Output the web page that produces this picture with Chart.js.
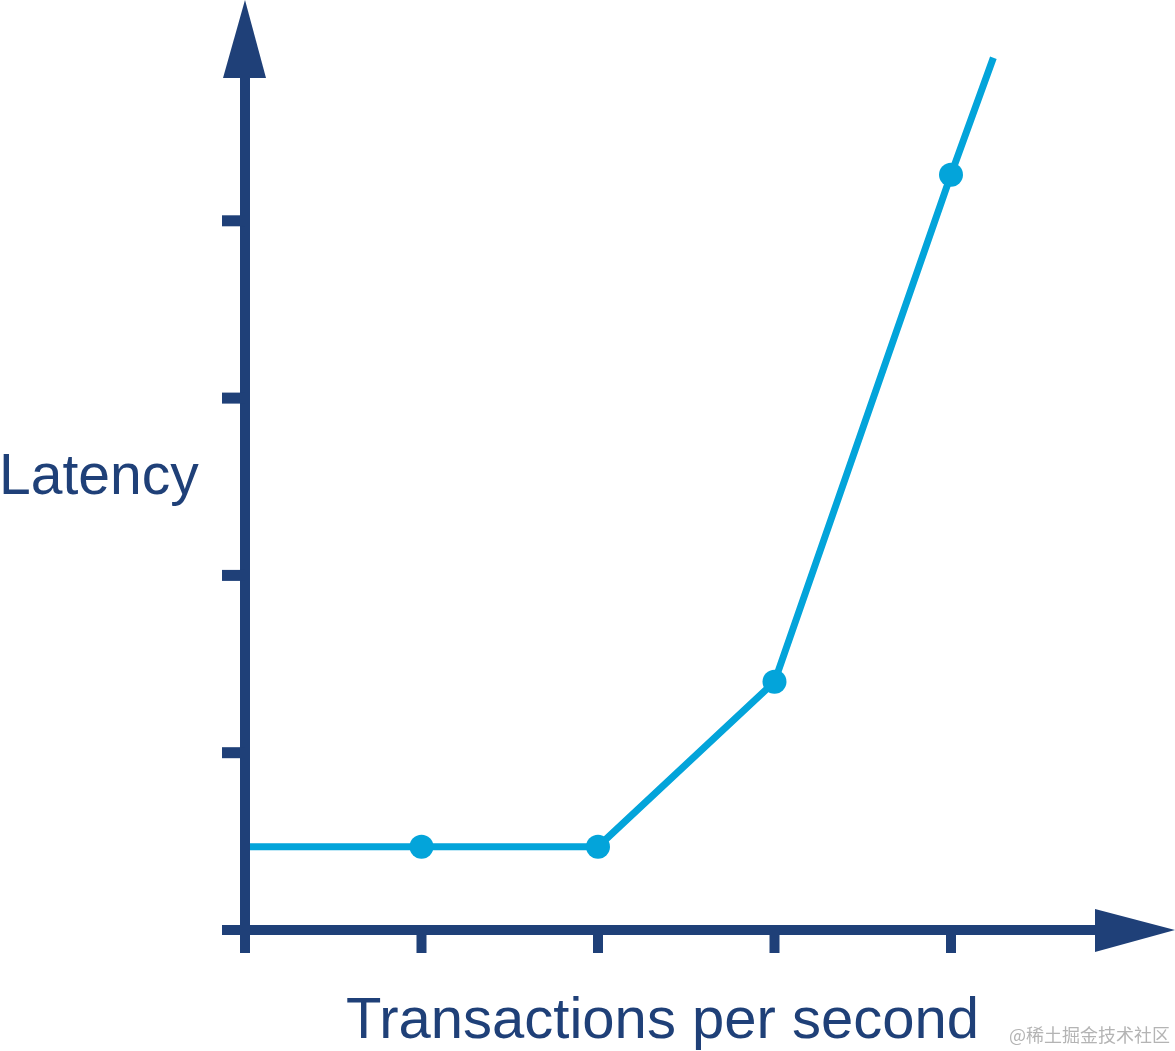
<!DOCTYPE html>
<html>
<head>
<meta charset="utf-8">
<script src="https://cdn.jsdelivr.net/npm/chart.js@4/dist/chart.umd.min.js"></script>
<style>
  html, body { margin: 0; padding: 0; background: #ffffff; }
  #wrap { position: relative; width: 1175px; height: 1051px; }
  canvas { display: block; }
</style>
</head>
<body>
<div id="wrap"><canvas id="c" width="1175" height="1051"></canvas></div>
<script>
// ---- data ----
const tpsValues = [0, 1, 2, 3, 4, 4.24];
const latencyValues = [0.47, 0.47, 0.47, 1.40, 4.26, 4.92];
const markerShown = [false, true, true, true, true, false];
const xTickValues = [0, 1, 2, 3, 4];
const yTickValues = [1, 2, 3, 4];
const xAxisTitle = 'Transactions per second';
const yAxisTitle = 'Latency';
const watermark = '@稀土掘金技术社区';

const NAVY = '#1f4078';
const BLUE = '#03a4da';

const axesPlugin = {
  id: 'axesPlugin',
  afterDatasetsDraw(chart) {
    const ctx = chart.ctx;
    const xs = chart.scales.x, ys = chart.scales.y;
    const x0 = xs.getPixelForValue(0);
    const y0 = ys.getPixelForValue(0);
    ctx.save();
    ctx.fillStyle = NAVY;
    // y axis line
    ctx.fillRect(x0 - 5, 70, 10, y0 + 23 - 70);
    // x axis line
    ctx.fillRect(x0 - 23, y0 - 5, 1100 - (x0 - 23), 10);
    // y ticks
    yTickValues.forEach(v => {
      const py = ys.getPixelForValue(v);
      ctx.fillRect(x0 - 23, py - 5.5, 23, 11);
    });
    // x ticks
    xTickValues.forEach(v => {
      const px = xs.getPixelForValue(v);
      ctx.fillRect(px - 5, y0, 10, 23);
    });
    // y arrow
    ctx.beginPath();
    ctx.moveTo(x0, 0);
    ctx.lineTo(x0 + 21, 78);
    ctx.lineTo(x0 - 22, 78);
    ctx.closePath();
    ctx.fill();
    // x arrow
    ctx.beginPath();
    ctx.moveTo(1175, y0);
    ctx.lineTo(1095, y0 - 21);
    ctx.lineTo(1095, y0 + 22);
    ctx.closePath();
    ctx.fill();
    // titles
    ctx.textBaseline = 'alphabetic';
    ctx.textAlign = 'left';
    ctx.font = '57px "Liberation Sans", Arial, sans-serif';
    ctx.fillText(yAxisTitle, -1, 494);
    ctx.font = '58px "Liberation Sans", Arial, sans-serif';
    ctx.fillText(xAxisTitle, 346, 1038);
    // watermark
    ctx.fillStyle = '#b4b4b4';
    ctx.font = '18px "Noto Sans CJK SC", sans-serif';
    ctx.fillText(watermark, 1009, 1042);
    ctx.restore();
  }
};

new Chart(document.getElementById('c'), {
  type: 'scatter',
  data: {
    datasets: [{
      data: tpsValues.map((x, i) => ({ x: x, y: latencyValues[i] })),
      showLine: true,
      borderColor: BLUE,
      backgroundColor: BLUE,
      borderWidth: 7,
      borderCapStyle: 'butt',
      pointRadius: markerShown.map(m => m ? 12 : 0),
      pointHoverRadius: markerShown.map(m => m ? 12 : 0),
      pointBorderWidth: 0,
      clip: false
    }]
  },
  options: {
    responsive: false,
    animation: false,
    events: [],
    layout: { padding: { left: 245, right: 47.5, top: 43.5, bottom: 121 } },
    plugins: { legend: { display: false }, tooltip: { enabled: false } },
    scales: {
      x: { type: 'linear', min: 0, max: 5, display: false },
      y: { type: 'linear', min: 0, max: 5, display: false }
    }
  },
  plugins: [axesPlugin]
});
</script>
</body>
</html>
